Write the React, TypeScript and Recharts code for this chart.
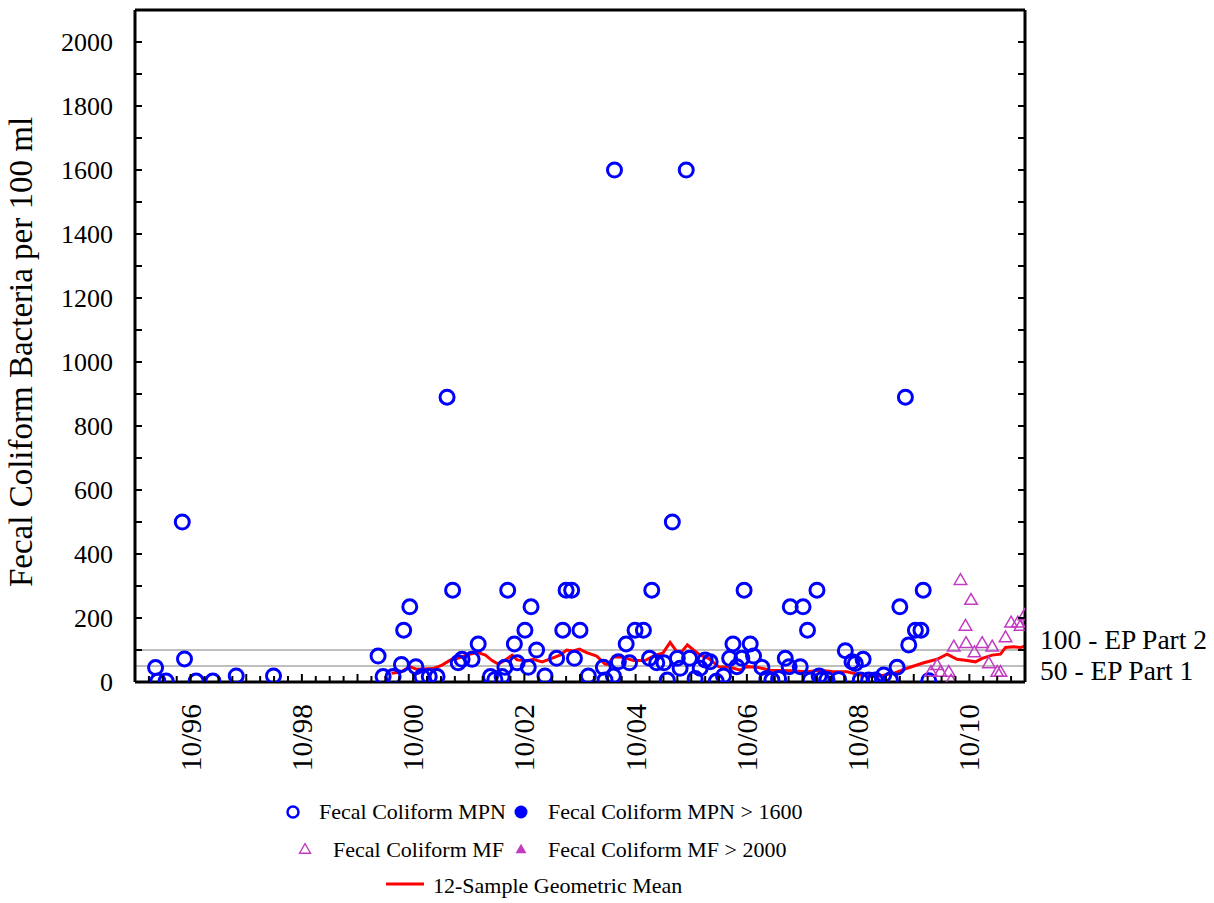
import React from "react";
import { ComposedChart, Line, ReferenceLine, Scatter, XAxis, YAxis } from "recharts";

// sample dates as decimal years, values in cfu / MPN per 100 ml
const mpnDates = [
  1996.12, 1996.16, 1996.31, 1996.6, 1996.64, 1996.85, 1997.15, 1997.57, 1998.24, 2000.12,
  2000.21, 2000.39, 2000.54, 2000.58, 2000.69, 2000.8, 2000.91, 2001.04, 2001.18, 2001.36,
  2001.46, 2001.56, 2001.63, 2001.81, 2001.92, 2002.14, 2002.22, 2002.35, 2002.4, 2002.45,
  2002.57, 2002.62, 2002.76, 2002.82, 2002.87, 2002.97, 2003.12, 2003.33, 2003.44, 2003.5,
  2003.6, 2003.65, 2003.75, 2003.9, 2004.17, 2004.2, 2004.35, 2004.37, 2004.44, 2004.58,
  2004.64, 2004.74, 2004.89, 2005.0, 2005.04, 2005.13, 2005.26, 2005.32, 2005.41, 2005.5,
  2005.55, 2005.66, 2005.72, 2005.82, 2005.91, 2006.0, 2006.09, 2006.2, 2006.33, 2006.44,
  2006.5, 2006.57, 2006.66, 2006.7, 2006.81, 2006.87, 2007.02, 2007.11, 2007.2, 2007.32,
  2007.44, 2007.53, 2007.51, 2007.71, 2007.76, 2007.84, 2007.89, 2008.01, 2008.05, 2008.1,
  2008.19, 2008.4, 2008.52, 2008.64, 2008.7, 2008.79, 2008.84, 2008.94, 2009.06, 2009.21,
  2009.33, 2009.45, 2009.5, 2009.6, 2009.66, 2009.78, 2009.88, 2009.92, 2010.02,
];
const mpnValues = [
  45, 3, 3, 500, 72, 3, 3, 19, 19, 81,
  17, 17, 55, 162, 235, 48, 17, 17, 17, 890,
  287, 60, 71, 71, 119, 17, 8, 17, 46, 287,
  119, 60, 162, 46, 235, 100, 19, 74, 162, 287,
  287, 74, 162, 19, 46, 6, 19, 1600, 63, 119,
  60, 162, 162, 74, 287, 60, 60, 6, 500, 74,
  43, 1600, 74, 11, 43, 69, 63, 2, 19, 74,
  119, 48, 74, 287, 119, 81, 46, 11, 6, 11,
  74, 235, 48, 48, 235, 162, 6, 287, 19, 8,
  8, 8, 98, 63, 58, 6, 71, 6, 6, 22,
  6, 46, 235, 890, 116, 162, 162, 287, 4,
];

// censored results (none in this record)
const mpnHighDates: number[] = [];
const mpnHighValues: number[] = [];

const mfDates = [
  2010.06, 2010.17, 2010.23, 2010.38, 2010.42, 2010.47, 2010.59, 2010.68, 2010.69, 2010.78,
  2010.84, 2010.98, 2011.1, 2011.16, 2011.25, 2011.31, 2011.4, 2011.5, 2011.62, 2011.67,
  2011.74,
];
const mfValues = [
  29, 50, 29, 29, 2, 108, 316, 173, 119, 254,
  90, 119, 56, 108, 29, 29, 137, 183, 183, 173,
  206,
];

const mfHighDates: number[] = [];
const mfHighValues: number[] = [];

const meanDates = [
  2000.36, 2000.53, 2000.69, 2000.81, 2001.11, 2001.27, 2001.42, 2001.51, 2001.65, 2001.9,
  2002.05, 2002.17, 2002.28, 2002.4, 2002.53, 2002.62, 2002.8, 2002.91, 2003.07, 2003.24,
  2003.39, 2003.51, 2003.63, 2003.74, 2003.87, 2004.05, 2004.2, 2004.26, 2004.35, 2004.53,
  2004.71, 2004.92, 2005.1, 2005.24, 2005.37, 2005.48, 2005.58, 2005.68, 2005.79, 2005.91,
  2006.06, 2006.24, 2006.45, 2006.63, 2006.75, 2006.93, 2007.17, 2007.53, 2007.83, 2008.07,
  2008.31, 2008.55, 2008.79, 2009.09, 2009.39, 2009.63, 2009.93, 2010.17, 2010.35, 2010.53,
  2010.71, 2010.86, 2010.98, 2011.16, 2011.31, 2011.4, 2011.55, 2011.67, 2011.75,
];
const meanValues = [
  27, 31, 48, 40, 42, 53, 69, 71, 81, 93,
  84, 67, 56, 67, 84, 69, 66, 71, 63, 74,
  84, 100, 97, 103, 92, 81, 56, 55, 79, 77,
  67, 67, 84, 90, 124, 97, 95, 116, 100, 84,
  74, 48, 46, 37, 48, 46, 37, 35, 32, 37,
  32, 32, 22, 17, 27, 43, 60, 71, 87, 71,
  67, 63, 74, 84, 87, 108, 110, 108, 112,
];

const xLabelTicks = [1996.75, 1998.75, 2000.75, 2002.75, 2004.75, 2006.75, 2008.75, 2010.75];
const xTickLabels = ["10/96", "10/98", "10/00", "10/02", "10/04", "10/06", "10/08", "10/10"];
const yTicks = [0, 100, 200, 300, 400, 500, 600, 700, 800, 900, 1000, 1100, 1200, 1300, 1400, 1500, 1600, 1700, 1800, 1900, 2000];

const standardValues = [100, 50];
const standardLabels = ["100 - EP Part 2", "50 - EP Part 1"];

const X_DOMAIN: [number, number] = [1995.75, 2011.75];
const Y_DOMAIN: [number, number] = [0, 2100];
const FONT = "'Liberation Serif', 'Times New Roman', serif";
const BLUE = "#0000ff";
const MAGENTA = "#c23cc2";
const RED = "#ff0000";

const serif = (size: number) => ({ fontFamily: FONT, fontSize: size });

const toPoints = (dates: number[], values: number[]) =>
  dates.map((t, i) => ({ t, v: values[i] }));

const mpnData = toPoints(mpnDates, mpnValues);
const mpnHighData = toPoints(mpnHighDates, mpnHighValues);
const mfData = toPoints(mfDates, mfValues);
const mfHighData = toPoints(mfHighDates, mfHighValues);
const meanData = toPoints(meanDates, meanValues);

// quarterly minor ticks along the time axis
const quarterTicks: number[] = [];
for (let q = 1; q < 64; q++) quarterTicks.push(X_DOMAIN[0] + q * 0.25);

const trianglePath = (cx: number, cy: number, s: number) => {
  const h = s * 0.866;
  return `M${cx},${cy - (2 * h) / 3}L${cx + s / 2},${cy + h / 3}L${cx - s / 2},${cy + h / 3}Z`;
};

const OpenCircle = (props: any) => (
  <circle cx={props.cx} cy={props.cy} r={7} fill="none" stroke={BLUE} strokeWidth={3} />
);
const FilledCircle = (props: any) => <circle cx={props.cx} cy={props.cy} r={7} fill={BLUE} />;
const OpenTriangle = (props: any) => (
  <path d={trianglePath(props.cx, props.cy, 12.5)} fill="none" stroke={MAGENTA} strokeWidth={1.5} />
);
const FilledTriangle = (props: any) => <path d={trianglePath(props.cx, props.cy, 12.5)} fill={MAGENTA} />;

const BottomTick = (props: any) => {
  const { x, y, payload } = props;
  const idx = xLabelTicks.findIndex((t) => Math.abs(t - payload.value) < 0.01);
  const frac = (payload.value - X_DOMAIN[0]) % 1;
  const major = frac < 0.01 || frac > 0.99;
  return (
    <g>
      <line x1={x} y1={y} x2={x} y2={y - (major ? 8 : 6)} stroke="#000" strokeWidth={2} />
      {idx >= 0 ? (
        <text
          x={x}
          y={y + 22}
          transform={`rotate(-90, ${x}, ${y + 22})`}
          textAnchor="end"
          dy="0.34em"
          style={serif(29.5)}
          fill="#000"
        >
          {xTickLabels[idx]}
        </text>
      ) : null}
    </g>
  );
};

const TopTick = (props: any) => {
  const { x, y } = props;
  return <line x1={x} y1={y} x2={x} y2={y + 4} stroke="#000" strokeWidth={2} />;
};

const LeftTick = (props: any) => {
  const { x, y, payload } = props;
  return (
    <g>
      <line x1={x} y1={y} x2={x + 7} y2={y} stroke="#000" strokeWidth={2} />
      {payload.value % 200 === 0 ? (
        <text x={x - 22} y={y} dy="0.34em" textAnchor="end" style={serif(26)} fill="#000">
          {payload.value}
        </text>
      ) : null}
    </g>
  );
};

const RightTick = (props: any) => {
  const { x, y } = props;
  return <line x1={x} y1={y} x2={x - 7} y2={y} stroke="#000" strokeWidth={2} />;
};

const StandardLabel = (props: any) => {
  const { viewBox, value, dy } = props;
  const x = viewBox.x + viewBox.width + 15;
  return (
    <text x={x} y={viewBox.y + dy} style={serif(27.5)} fill="#000">
      {value}
    </text>
  );
};

function LegendOverlay() {
  return (
    <svg
      width={1214}
      height={903}
      style={{ position: "absolute", left: 0, top: 0, pointerEvents: "none" }}
    >
      <text
        x={32}
        y={352}
        transform="rotate(-90, 32, 352)"
        textAnchor="middle"
        style={serif(33)}
        fill="#000"
      >
        Fecal Coliform Bacteria per 100 ml
      </text>

      <circle cx={293} cy={812} r={5.5} fill="none" stroke={BLUE} strokeWidth={2.5} />
      <text x={319} y={819} style={serif(22)} fill="#000">
        Fecal Coliform MPN
      </text>
      <circle cx={521} cy={812} r={6.5} fill={BLUE} />
      <text x={548} y={819} style={serif(22)} fill="#000">
        Fecal Coliform MPN &gt; 1600
      </text>

      <path d={trianglePath(305, 850, 11)} fill="none" stroke={MAGENTA} strokeWidth={1.4} />
      <text x={333} y={857} style={serif(22)} fill="#000">
        Fecal Coliform MF
      </text>
      <path d={trianglePath(521, 850, 11)} fill={MAGENTA} />
      <text x={548} y={857} style={serif(22)} fill="#000">
        Fecal Coliform MF &gt; 2000
      </text>

      <line x1={386} y1={884} x2={424} y2={884} stroke={RED} strokeWidth={3} />
      <text x={433} y={893} style={serif(22)} fill="#000">
        12-Sample Geometric Mean
      </text>
    </svg>
  );
}

export default function App() {
  return (
    <div style={{ position: "absolute", left: 0, top: 0, width: 1214, height: 903, background: "#fff" }}>
      <ComposedChart
        width={1214}
        height={903}
        margin={{ top: 4, right: 179, bottom: 101, left: 55 }}
        style={{ fontFamily: FONT }}
      >
        <XAxis
          dataKey="t"
          type="number"
          domain={X_DOMAIN}
          allowDataOverflow
          ticks={quarterTicks}
          interval={0}
          height={120}
          tickSize={0}
          tickMargin={0}
          tickLine={false}
          axisLine={{ stroke: "#000", strokeWidth: 3 }}
          tick={<BottomTick />}
        />
        <XAxis
          xAxisId="top"
          orientation="top"
          type="number"
          domain={X_DOMAIN}
          allowDataOverflow
          ticks={quarterTicks}
          interval={0}
          height={6}
          tickSize={0}
          tickMargin={0}
          tickLine={false}
          axisLine={{ stroke: "#000", strokeWidth: 3 }}
          tick={<TopTick />}
        />
        <YAxis
          dataKey="v"
          type="number"
          domain={Y_DOMAIN}
          allowDataOverflow
          ticks={yTicks}
          interval={0}
          width={80}
          tickSize={0}
          tickMargin={0}
          tickLine={false}
          axisLine={{ stroke: "#000", strokeWidth: 3 }}
          tick={<LeftTick />}
        />
        <YAxis
          yAxisId="right"
          orientation="right"
          type="number"
          domain={Y_DOMAIN}
          allowDataOverflow
          ticks={yTicks}
          interval={0}
          width={10}
          tickSize={0}
          tickMargin={0}
          tickLine={false}
          axisLine={{ stroke: "#000", strokeWidth: 3 }}
          tick={<RightTick />}
        />

        {standardValues.map((value, i) => (
          <ReferenceLine
            key={value}
            y={value}
            stroke="#7f7f7f"
            strokeWidth={1}
            label={<StandardLabel value={standardLabels[i]} dy={i === 0 ? -1 : 14} />}
          />
        ))}

        <Scatter data={mpnData} dataKey="v" shape={<OpenCircle />} isAnimationActive={false} />
        <Scatter data={mpnHighData} dataKey="v" shape={<FilledCircle />} isAnimationActive={false} />
        <Scatter data={mfData} dataKey="v" shape={<OpenTriangle />} isAnimationActive={false} />
        <Scatter data={mfHighData} dataKey="v" shape={<FilledTriangle />} isAnimationActive={false} />
        <Line
          data={meanData}
          dataKey="v"
          type="linear"
          stroke={RED}
          strokeWidth={3}
          dot={false}
          activeDot={false}
          isAnimationActive={false}
        />
      </ComposedChart>
      <LegendOverlay />
    </div>
  );
}
